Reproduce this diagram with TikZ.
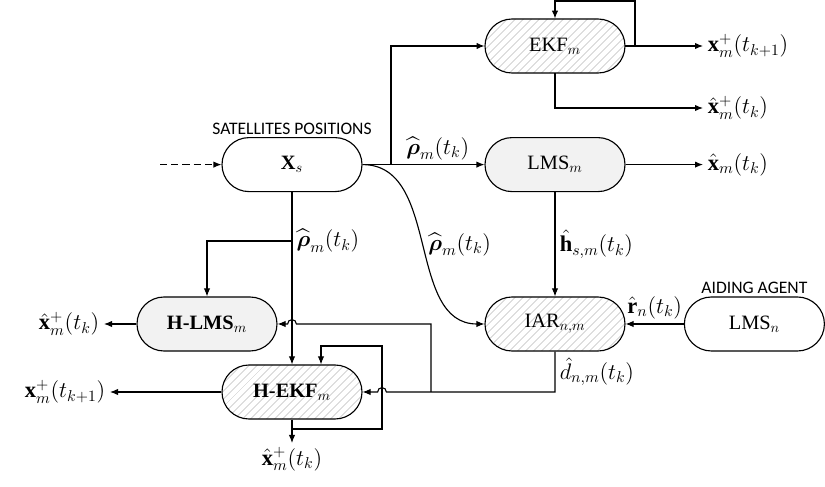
\documentclass[tikz,border=0pt]{standalone}
\usepackage{fix-cm}
\usepackage{amsmath}
\usepackage{fontspec}
\setmainfont{Liberation Serif}
\newfontfamily\tagfont{Carlito}
\usetikzlibrary{arrows.meta,shapes.misc,patterns.meta}

\definecolor{blockGray}{HTML}{F2F2F2}
\definecolor{hatchGray}{HTML}{CDCDCD}

\tikzset{
  block/.style={rounded rectangle,draw,line width=0.8pt,minimum width=3.5cm,
    minimum height=1.35cm,inner sep=0pt,font=\fontsize{14.5}{17}\selectfont},
  plainblock/.style={block,fill=white},
  grayblock/.style={block,fill=blockGray},
  hatchblock/.style={block,preaction={fill=white},
    pattern={Lines[angle=45,distance=4pt,line width=0.6pt]},pattern color=hatchGray},
  flow/.style={line width=0.8pt,-{Latex[length=2mm,width=1.6mm]}},
  sig/.style={font=\fontsize{16}{19}\selectfont,inner sep=3pt},
  tag/.style={font=\tagfont\fontsize{12.5}{15}\selectfont,inner sep=1.5pt}
}

\begin{document}
\begin{tikzpicture}[font=\fontsize{14}{17}\selectfont]
  \useasboundingbox (0,0) rectangle (20.625,12.175);

  % blocks
  \node[hatchblock] (ekf) at (13.875,11.025) {EKF$_m$};
  \node[grayblock] (lms) at (13.875,8.06) {LMS$_m$};
  \node[plainblock] (xs) at (7.3,8.06) {$\mathbf{X}_s$};
  \node[hatchblock] (iar) at (13.875,4.075) {IAR$_{n,m}$};
  \node[plainblock] (lmsn) at (18.86,4.075) {LMS$_n$};
  \node[grayblock] (hlms) at (5.175,4.075) {\textbf{H-LMS}$_m$};
  \node[hatchblock] (hekf) at (7.3,2.375) {\textbf{H-EKF}$_m$};

  \node[tag,anchor=south] (sattag) at (xs.north) {SATELLITES POSITIONS};
  \node[tag,anchor=south] (aidtag) at (lmsn.north) {AIDING AGENT};

  % bends and free ends
  \coordinate (split) at (9.775,8.06);
  \coordinate (ekfout) at (17.575,11.025);
  \coordinate (ekfloop) at (15.875,12.15);
  \coordinate (ekfhat) at (17.575,9.475);
  \coordinate (lmsout) at (17.575,8.06);
  \coordinate (dashin) at (4.0,8.06);
  \coordinate (rhosplit) at (7.3,6.15);
  \coordinate (hlmsbend) at (10.775,2.375);
  \coordinate (hlmsout) at (2.6,4.075);
  \coordinate (hekfout) at (2.75,2.375);
  \coordinate (hekfdown) at (7.3,1.1);
  \coordinate (hekfsplit) at (7.3,1.45);
  \coordinate (hekfloop) at (9.55,3.525);

  % top branch
  \draw[flow] (ekf.east) -- (ekfout) node[right,sig] {$\mathbf{x}^+_m(t_{k+1})$};
  \draw[flow] (ekf.east) -| (ekfloop) -| (ekf.north);
  \draw[flow] (ekf.south) |- (ekfhat) node[right,sig] {$\hat{\mathbf{x}}^+_m(t_k)$};
  \draw[flow] (lms.east) -- (lmsout) node[right,sig] {$\hat{\mathbf{x}}_m(t_k)$};

  % satellites
  \draw[flow,dash pattern=on 5pt off 3pt] (dashin) -- (xs.west);
  \draw[line width=0.8pt] (xs.east) -- (split);
  \draw[flow] (split) |- (ekf.west);
  \draw[flow] (split) -- node[above,sig] {$\widehat{\boldsymbol{\rho}}_m(t_k)$} (lms.west);
  \draw[flow] (xs.east) to[out=0,in=180]
    node[right,sig,pos=0.5] {$\widehat{\boldsymbol{\rho}}_m(t_k)$} (iar.west);
  \draw[flow] (xs.south) -- (hekf.north);
  \draw[flow] (rhosplit) -| (hlms.north);
  \path (rhosplit) node[right,sig] {$\widehat{\boldsymbol{\rho}}_m(t_k)$};

  % aiding
  \draw[flow] (lms.south) -- node[right,sig] {$\hat{\mathbf{h}}_{s,m}(t_k)$} (iar.north);
  \draw[flow] (lmsn.west) -- node[above,sig] {$\hat{\mathbf{r}}_n(t_k)$} (iar.east);
  \draw[flow] (iar.south) |- node[right,sig,pos=0.25] {$\hat{d}_{n,m}(t_k)$}
    (9.66,2.375) arc[start angle=0,end angle=180,radius=0.11] -- (hekf.east);
  \draw[flow] (hlmsbend) |- (7.41,4.075) arc[start angle=0,end angle=180,radius=0.11]
    -- (hlms.east);

  % hybrid outputs
  \draw[flow] (hlms.west) -- (hlmsout) node[left,sig] {$\hat{\mathbf{x}}^+_m(t_k)$};
  \draw[flow] (hekf.west) -- (hekfout) node[left,sig] {$\mathbf{x}^+_m(t_{k+1})$};
  \draw[flow] (hekf.south) -- (hekfdown) node[below,sig] {$\hat{\mathbf{x}}^+_m(t_k)$};
  \draw[flow] (hekfsplit) -| (hekfloop) -| ([xshift=0.725cm]hekf.north);
\end{tikzpicture}
\end{document}
